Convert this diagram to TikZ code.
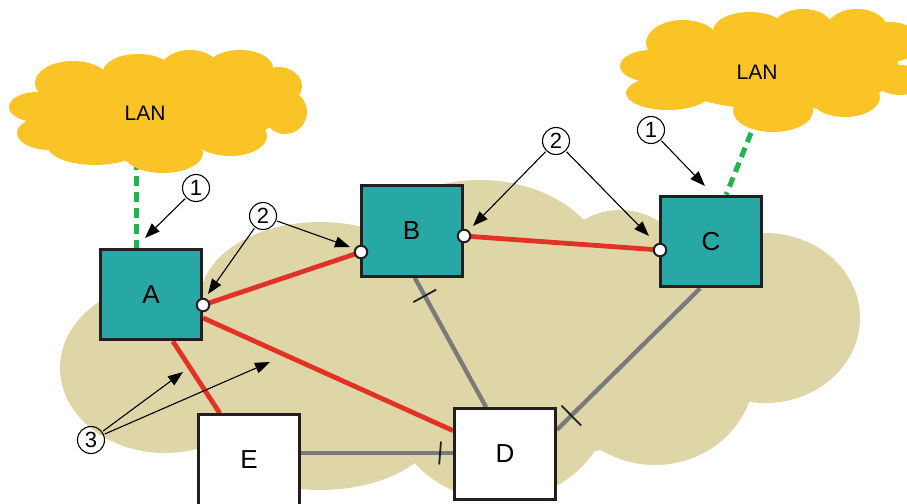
\documentclass[tikz,border=0pt]{standalone}
\usepackage{fontspec}
\setmainfont{Liberation Sans}
\usetikzlibrary{arrows.meta,calc}
\pgfdeclarelayer{bg}
\pgfsetlayers{bg,main}
\definecolor{lanyellow}{RGB}{250,196,38}
\definecolor{cloudtan}{RGB}{222,214,166}
\definecolor{teal}{RGB}{40,168,164}
\definecolor{redline}{RGB}{226,50,38}
\definecolor{grayline}{RGB}{122,122,122}
\definecolor{greenline}{RGB}{34,180,76}
\definecolor{boxline}{RGB}{35,31,32}
\begin{document}
\begin{tikzpicture}[x=1pt,y=-1pt,
  box/.style={draw=boxline, line width=3pt, minimum width=101pt, minimum height=90.5pt, inner sep=0pt, font=\fontsize{26}{30}\selectfont},
  active/.style={box, fill=teal},
  passive/.style={box, fill=white},
  port/.style={circle, fill=white, draw=boxline, line width=2pt, minimum size=12.5pt, inner sep=0pt},
  redlink/.style={draw=redline, line width=4.8pt},
  graylink/.style={draw=grayline, line width=4.3pt},
  lanlink/.style={draw=greenline, line width=5pt, dash pattern=on 10pt off 6pt},
  tickmark/.style={draw=boxline, line width=1.8pt},
  lantext/.style={font=\fontsize{21}{24}\selectfont},
  num/.style={circle, draw=black, line width=1.1pt, minimum size=27pt, inner sep=0pt, font=\fontsize{22}{24}\selectfont},
  ann/.style={draw=black, line width=1.1pt, -{Triangle[length=15pt,width=11pt]}, shorten <=1pt}]
\path[use as bounding box] (0,0) rectangle (907,503);
\clip (0,0) rectangle (907,503);
% boxes
\node[active] (A) at (151,294.5) {A};
\node[active] (B) at (411.5,231) {B};
\node[active] (C) at (711,241.5) {C};
\node[passive] (D) at (505,454) {D};
\node[passive] (E) at (249,460) {E};
\begin{pgfonlayer}{bg}
% background cloud
\fill[cloudtan]
  (165,368) ellipse [x radius=105pt, y radius=85pt]
  (320,300) ellipse [x radius=120pt, y radius=78pt]
  (480,280) ellipse [x radius=130pt, y radius=100pt]
  (620,300) ellipse [x radius=80pt, y radius=90pt]
  (765,318) ellipse [x radius=95pt, y radius=85pt]
  (655,370) ellipse [x radius=100pt, y radius=95pt]
  (500,400) ellipse [x radius=110pt, y radius=100pt]
  (320,420) ellipse [x radius=120pt, y radius=70pt]
  (470,360) ellipse [x radius=300pt, y radius=100pt];
% LAN links
\coordinate (lan1b) at (136,160);
\coordinate (lan2b) at (757,118);
\draw[lanlink] (lan1b) -- (A.north -| lan1b);
\draw[lanlink] (lan2b) -- (C.72);
% LAN clouds
\fill[lanyellow]
  (37,107) ellipse [x radius=28pt, y radius=15pt]
  (50,133) ellipse [x radius=33pt, y radius=17pt]
  (73,83) ellipse [x radius=38pt, y radius=22pt]
  (138,72) ellipse [x radius=35pt, y radius=18pt]
  (190,70) ellipse [x radius=30pt, y radius=20pt]
  (240,68) ellipse [x radius=33pt, y radius=18pt]
  (278,86) ellipse [x radius=24pt, y radius=19pt]
  (285,112) ellipse [x radius=22pt, y radius=22pt]
  (230,136) ellipse [x radius=37pt, y radius=20pt]
  (163,153) ellipse [x radius=40pt, y radius=20pt]
  (95,145) ellipse [x radius=48pt, y radius=20pt]
  (160,110) ellipse [x radius=120pt, y radius=42pt];
\fill[lanyellow]
  (652,66) ellipse [x radius=32pt, y radius=16pt]
  (668,93) ellipse [x radius=42pt, y radius=17pt]
  (683,43) ellipse [x radius=37pt, y radius=23pt]
  (750,31) ellipse [x radius=37pt, y radius=19pt]
  (803,28) ellipse [x radius=30pt, y radius=19pt]
  (857,28) ellipse [x radius=30pt, y radius=19pt]
  (890,42) ellipse [x radius=30pt, y radius=20pt]
  (900,80) ellipse [x radius=25pt, y radius=15pt]
  (845,97) ellipse [x radius=35pt, y radius=20pt]
  (773,111) ellipse [x radius=40pt, y radius=21pt]
  (780,70) ellipse [x radius=120pt, y radius=40pt];
% links
\coordinate (pA) at (203,305);
\coordinate (pB1) at (361,252);
\coordinate (pB2) at (464,236);
\coordinate (pC) at (660,250);
\draw[redlink] (pA) -- (pB1);
\draw[redlink] (pB2) -- (pC);
\draw[redlink] (A) -- (D);
\draw[redlink] (A.-65) -- (E.122);
\draw[graylink] (B.-86) -- coordinate[pos=0.14] (tBD) (D.112);
\draw[graylink] (C.-103) -- coordinate[pos=0.9] (tCD) (D.25);
\draw[graylink] ([yshift=7pt]E.east) -- coordinate[pos=0.915] (tED) ([yshift=1pt]D.west);
\end{pgfonlayer}
\node[lantext] (lan1) at (145,113) {LAN};
\node[lantext] (lan2) at (757,72) {LAN};
% ticks
\draw[tickmark] ($(tBD)!13pt!90:(D.112)$) -- ($(tBD)!13pt!-90:(D.112)$);
\draw[tickmark] ($(tCD)!14pt!90:(D.25)$) -- ($(tCD)!14pt!-90:(D.25)$);
\draw[tickmark] ($(tED)!11.5pt!90:(D.west)$) -- ($(tED)!11.5pt!-90:(D.west)$);
% port circles
\node[port] (oA) at (pA) {};
\node[port] (oB1) at (pB1) {};
\node[port] (oB2) at (pB2) {};
\node[port] (oC) at (pC) {};
% annotations
\node[num] (n1a) at (196,188) {1};
\node[num] (n2a) at (263,216) {2};
\node[num] (n2b) at (556,141) {2};
\node[num] (n1b) at (651,130) {1};
\node[num] (n3) at (91,440) {3};
\coordinate (t1a) at (145,238);
\coordinate (t2a) at (208,294);
\coordinate (t2b) at (350,247);
\coordinate (t2c) at (473,226);
\coordinate (t2d) at (649,236);
\coordinate (t1b) at (705,186);
\coordinate (t3a) at (183,372);
\coordinate (t3b) at (270,362);
\draw[ann] (n1a) -- (t1a);
\draw[ann] (n2a) -- (t2a);
\draw[ann] (n2a) -- (t2b);
\draw[ann] (n2b) -- (t2c);
\draw[ann] (n2b) -- (t2d);
\draw[ann] (n1b) -- (t1b);
\draw[ann] (n3) -- (t3a);
\draw[ann] (n3) -- (t3b);
\end{tikzpicture}
\end{document}
